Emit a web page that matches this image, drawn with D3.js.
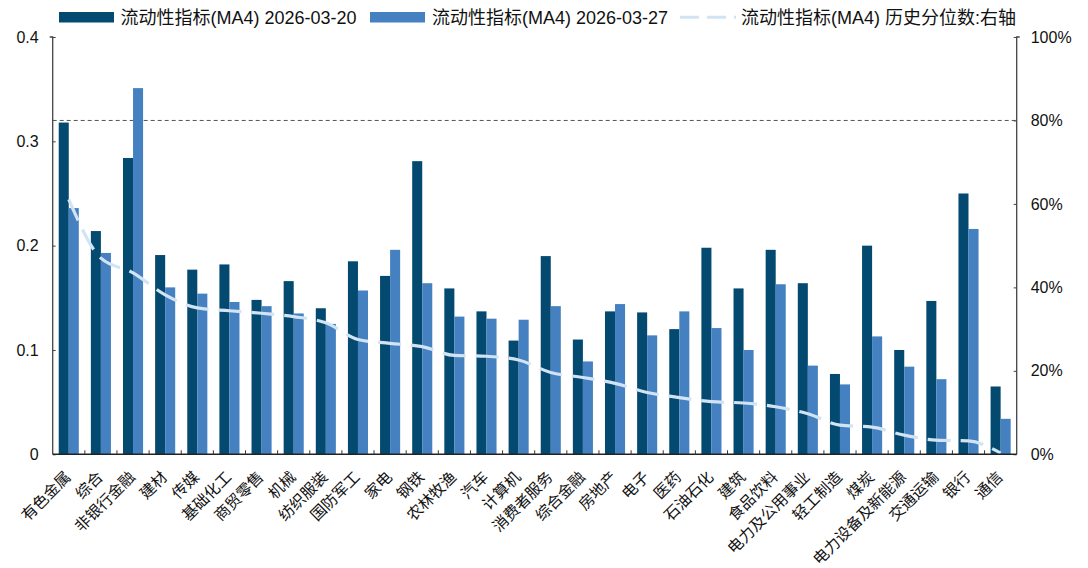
<!DOCTYPE html>
<html><head><meta charset="utf-8">
<script src="https://cdn.jsdelivr.net/npm/d3@7"></script>
<style>
body{margin:0;background:#fff;}
text{font-family:"Liberation Sans",Arial,"Noto Sans CJK SC",sans-serif;fill:#111;}
.cjk{font-family:"Liberation Sans","Noto Sans CJK SC",sans-serif;}
</style></head>
<body>
<svg id="chart" width="1088" height="568"></svg>
<script>
const categories = ["有色金属","综合","非银行金融","建材","传媒","基础化工","商贸零售","机械","纺织服装","国防军工","家电","钢铁","农林牧渔","汽车","计算机","消费者服务","综合金融","房地产","电子","医药","石油石化","建筑","食品饮料","电力及公用事业","轻工制造","煤炭","电力设备及新能源","交通运输","银行","通信"];
const series0320 = [0.318,0.214,0.284,0.191,0.177,0.182,0.148,0.166,0.140,0.185,0.171,0.281,0.159,0.137,0.109,0.190,0.110,0.137,0.136,0.120,0.198,0.159,0.196,0.164,0.077,0.200,0.100,0.147,0.250,0.065];
const series0327 = [0.236,0.193,0.351,0.160,0.154,0.146,0.142,0.135,0.125,0.157,0.196,0.164,0.132,0.130,0.129,0.142,0.089,0.144,0.114,0.137,0.121,0.100,0.163,0.085,0.067,0.113,0.084,0.072,0.216,0.034];
const percentile = [0.611,0.470,0.435,0.382,0.351,0.344,0.338,0.330,0.315,0.275,0.266,0.258,0.237,0.235,0.226,0.196,0.184,0.170,0.148,0.136,0.126,0.123,0.114,0.097,0.070,0.065,0.046,0.034,0.032,0.003];
const leftTicks = [0,0.1,0.2,0.3,0.4];
const rightTicks = [0,0.2,0.4,0.6,0.8,1.0];
const refLevel = 0.8;
const seriesNames = ["流动性指标(MA4) 2026-03-20","流动性指标(MA4) 2026-03-27","流动性指标(MA4) 历史分位数:右轴"];

const C_DARK = "#044a70", C_LIGHT = "#4581c0", C_LINE = "#d2e4f4";
const svg = d3.select("#chart");
const L = 52.7, R = 1016.7, T = 37, B = 454.3;

const x = d3.scaleBand().domain(categories).range([L, R]).paddingInner(0).paddingOuter(0);
const xs = d3.scaleBand().domain([0,1]).range([0, x.bandwidth()]).paddingInner(0).paddingOuter(0.6);
const y = d3.scaleLinear().domain([0, 0.4]).range([B, T]);
const y2 = d3.scaleLinear().domain([0, 1]).range([B, T]);

// reference dashed line at 80%
svg.append("line").attr("x1", L).attr("x2", R).attr("y1", y2(refLevel)).attr("y2", y2(refLevel))
  .attr("stroke", "#555").attr("stroke-width", 1).attr("stroke-dasharray", "4,3");

// bars
const g = svg.append("g");
[series0320, series0327].forEach((s, si) => {
  g.selectAll(null).data(s).enter().append("rect")
    .attr("x", (d, i) => x(categories[i]) + xs(si))
    .attr("width", xs.bandwidth())
    .attr("y", d => y(d))
    .attr("height", d => B - y(d))
    .attr("fill", si === 0 ? C_DARK : C_LIGHT);
});

// percentile line
const line = d3.line().x((d, i) => x(categories[i]) + x.bandwidth() / 2).y(d => y2(d)).curve(d3.curveMonotoneX);
svg.append("path").attr("d", line(percentile)).attr("fill", "none")
  .attr("stroke", C_LINE).attr("stroke-width", 3.2).attr("stroke-dasharray", "23,10");

// left axis
const ax = d3.axisLeft(y).tickValues(leftTicks).tickSize(-3).tickPadding(14).tickFormat(d => d === 0 ? "0" : d3.format(".1f")(d));
const gl = svg.append("g").attr("transform", `translate(${L},0)`).call(ax);
gl.select(".domain").attr("stroke", "#444").attr("stroke-width", 1.3).attr("d", `M-3,${T}H0V${B}`);
gl.selectAll(".tick line").attr("stroke", "#444");
gl.selectAll(".tick text").attr("font-size", 16).attr("fill", "#111");

// right axis
const ar = d3.axisRight(y2).tickValues(rightTicks).tickSize(-3).tickPadding(14).tickFormat(d3.format(".0%"));
const gr = svg.append("g").attr("transform", `translate(${R},0)`).call(ar);
gr.select(".domain").attr("stroke", "#444").attr("stroke-width", 1.3).attr("d", `M3,${T}H0V${B}`);
gr.selectAll(".tick line").attr("stroke", "#444");
gr.selectAll(".tick text").attr("font-size", 16).attr("fill", "#111");

// bottom axis
const gb = svg.append("g");
gb.append("line").attr("x1", L).attr("x2", R).attr("y1", B).attr("y2", B).attr("stroke", "#222").attr("stroke-width", 1.5);
gb.selectAll(null).data(categories.slice(1)).enter().append("line")
  .attr("x1", d => x(d)).attr("x2", d => x(d)).attr("y1", B).attr("y2", B - 4)
  .attr("stroke", "#333").attr("stroke-width", 1);
gb.selectAll(null).data(categories).enter().append("text")
  .attr("class", "cjk")
  .attr("transform", d => `translate(${x(d) + x.bandwidth() / 2 + 3},478) rotate(-45)`)
  .attr("text-anchor", "end").attr("font-size", 15.5).text(d => d);

// legend
const lg = svg.append("g");
lg.append("rect").attr("x", 59).attr("y", 12).attr("width", 55).attr("height", 10.5).attr("fill", C_DARK);
lg.append("text").attr("x", 120.5).attr("y", 23.5).attr("font-size", 18).text(seriesNames[0]);
lg.append("rect").attr("x", 370).attr("y", 12).attr("width", 55).attr("height", 10.5).attr("fill", C_LIGHT);
lg.append("text").attr("x", 432).attr("y", 23.5).attr("font-size", 18).text(seriesNames[1]);
lg.append("line").attr("x1", 680).attr("x2", 736).attr("y1", 17.2).attr("y2", 17.2)
  .attr("stroke", C_LINE).attr("stroke-width", 3).attr("stroke-dasharray", "19,8");
lg.append("text").attr("x", 741).attr("y", 23.5).attr("font-size", 18).text(seriesNames[2]);
</script>
</body></html>
